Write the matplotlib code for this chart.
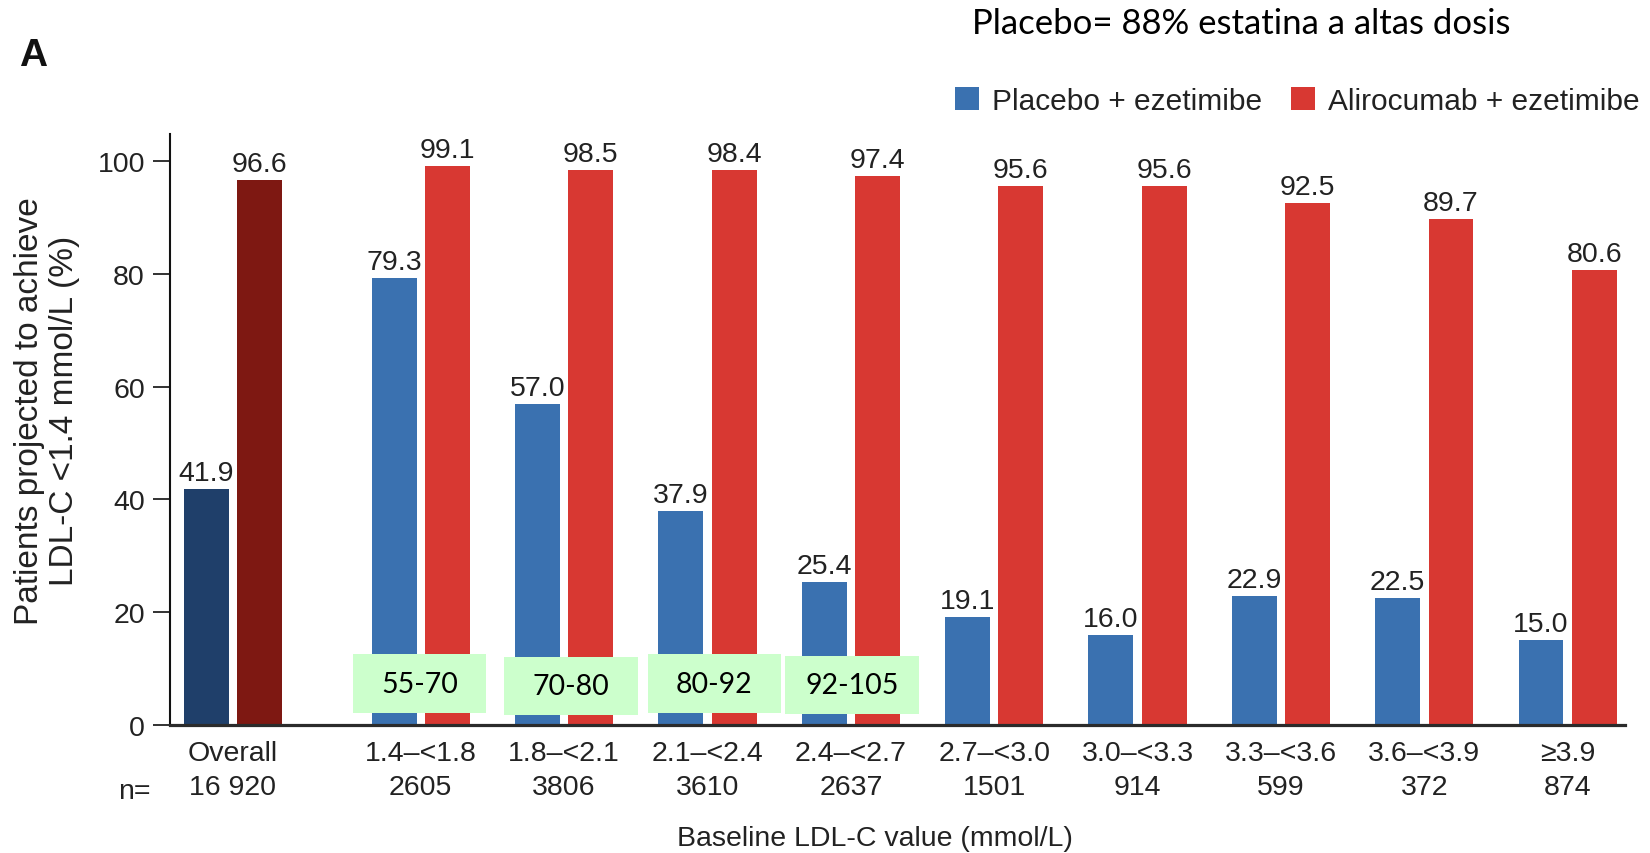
import numpy as np
import matplotlib.pyplot as plt
from matplotlib.patches import Patch, Rectangle

plt.rcParams['font.family'] = ['Liberation Sans', 'DejaVu Sans']

# datos
categorias = ['1.4–<1.8', '1.8–<2.1', '2.1–<2.4', '2.4–<2.7', '2.7–<3.0',
              '3.0–<3.3', '3.3–<3.6', '3.6–<3.9', '≥3.9']
n_pacientes = ['2605', '3806', '3610', '2637', '1501', '914', '599', '372', '874']
placebo = [79.3, 57.0, 37.9, 25.4, 19.1, 16.0, 22.9, 22.5, 15.0]
alirocumab = [99.1, 98.5, 98.4, 97.4, 95.6, 95.6, 92.5, 89.7, 80.6]
overall_label = 'Overall'
overall_n = '16 920'
overall_placebo = 41.9
overall_alirocumab = 96.6
rangos_mgdl = ['55-70', '70-80', '80-92', '92-105']  # cajas verdes

azul, rojo = '#3A71B0', '#D83832'
azul_osc, rojo_osc = '#1F3F6A', '#7E1812'
verde = '#CCFFCC'
txt = '#222222'
fs = 20.5

fig = plt.figure(figsize=(16.5, 8.54), dpi=100)
ax = fig.add_axes([0.10303, 0.14988, 0.88182, 0.69204])

x = np.arange(1, len(categorias) + 1)
x_overall = -0.31
w = 0.313
d = 0.186

ax.bar(x - d, placebo, w, color=azul, zorder=2)
ax.bar(x + d, alirocumab, w, color=rojo, zorder=2)
ax.bar(x_overall - d, overall_placebo, w, color=azul_osc, zorder=2)
ax.bar(x_overall + d, overall_alirocumab, w, color=rojo_osc, zorder=2)

xs = list(x - d) + list(x + d) + [x_overall - d, x_overall + d]
vals = placebo + alirocumab + [overall_placebo, overall_alirocumab]
for xi, v in zip(xs, vals):
    ax.annotate(f'{v:.1f}', (xi, v), xytext=(0, 6.5), textcoords='offset points',
                ha='center', va='baseline', fontsize=fs, color=txt)

# cajas verdes (equivalencia en mg/dL)
bordes = [(-0.474, 0.458, 2.1, 12.6), (-0.42, 0.512, 1.8, 12.0),
          (-0.418, 0.516, 2.1, 12.6), (-0.456, 0.476, 1.95, 12.3)]
for i, lab in enumerate(rangos_mgdl):
    l, r, b, t = bordes[i]
    xc = x[i]
    ax.add_patch(Rectangle((xc + l, b), r - l, t - b, facecolor=verde,
                           edgecolor='none', zorder=3))
    ax.text(xc + (l + r) / 2, (b + t) / 2, lab, ha='center', va='center',
            fontsize=20.5, family='Lato', color='black', zorder=4)

ax.set_xlim(-0.749, 9.40)
ax.set_ylim(0, 104.8)
ax.set_yticks([0, 20, 40, 60, 80, 100])
ax.set_xticks([x_overall] + list(x))
ax.set_xticklabels([f'{overall_label}\n{overall_n}'] +
                   [f'{c}\n{n}' for c, n in zip(categorias, n_pacientes)],
                   linespacing=1.4)
ax.tick_params(axis='y', length=12, width=1.3, pad=6, labelsize=fs,
               labelcolor=txt, color=txt)
ax.tick_params(axis='x', length=0, pad=11, labelsize=fs, labelcolor=txt)

for s in ['top', 'right']:
    ax.spines[s].set_visible(False)
ax.spines['left'].set_linewidth(1.5)
ax.spines['left'].set_color('#111111')
ax.spines['bottom'].set_linewidth(2.3)
ax.spines['bottom'].set_color('#2b2b2b')
ax.spines['bottom'].set_zorder(5)

fig.text(134 / 1650, 1 - 792 / 854, 'n=', ha='center', va='center',
         fontsize=fs, color=txt)
fig.text(875 / 1650, 1 - 839 / 854, 'Baseline LDL-C value (mmol/L)',
         ha='center', va='center', fontsize=fs, color=txt)
fig.text(47 / 1650, 1 - 411 / 854,
         'Patients projected to achieve\nLDL-C <1.4 mmol/L (%)',
         ha='center', va='center', rotation=90, fontsize=24, color=txt,
         linespacing=1.15, multialignment='center')

fig.text(19 / 1650, 1 - 66 / 854, 'A', ha='left', va='baseline',
         fontsize=28, fontweight='bold', color='#111111')
fig.text(972 / 1650, 1 - 34 / 854, 'Placebo= 88% estatina a altas dosis',
         ha='left', va='baseline', fontsize=25, family='Lato', color='black')

handles = [Patch(facecolor=azul, label='Placebo + ezetimibe'),
           Patch(facecolor=rojo, label='Alirocumab + ezetimibe')]
fig.legend(handles=handles, loc='upper left', bbox_to_anchor=(955 / 1650, 1 - 88 / 854),
           ncol=2, frameon=False, fontsize=21.5, handlelength=0.8, handleheight=0.8,
           handletextpad=0.45, columnspacing=0.95, borderpad=0, borderaxespad=0,
           labelcolor=txt)

fig.savefig('out.png', dpi=100)
